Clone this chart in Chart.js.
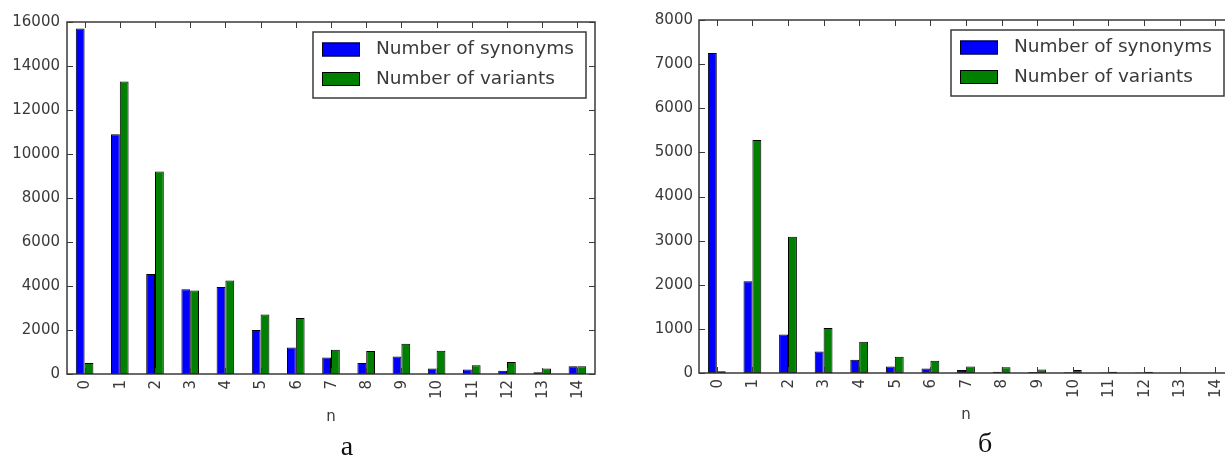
<!DOCTYPE html>
<html>
<head>
<meta charset="utf-8">
<script src="https://cdn.jsdelivr.net/npm/chart.js@4/dist/chart.umd.min.js"></script>
<style>
  html, body { margin: 0; padding: 0; background: #fff; }
  body { width: 1225px; height: 459px; overflow: hidden; position: relative; }
  canvas { position: absolute; top: 0; }
  .cap { position: absolute; font-family: "Liberation Serif", serif; font-size: 28px; color: #111; transform: translateX(-50%); line-height: 1; }
</style>
</head>
<body>
<canvas id="chartA" width="620" height="459" style="left:0px"></canvas>
<canvas id="chartB" width="620" height="459" style="left:630px"></canvas>
<div class="cap" style="left:347px; top:432px;">а</div>
<div class="cap" style="left:985px; top:429px;">б</div>
<script>
const categories = ['0','1','2','3','4','5','6','7','8','9','10','11','12','13','14'];
const seriesNames = ['Number of synonyms', 'Number of variants'];
const synonymsA = [15700, 10900, 4550, 3850, 3950, 2000, 1200, 750, 500, 800, 250, 200, 150, 80, 350];
const variantsA = [500, 13300, 9200, 3800, 4250, 2700, 2550, 1100, 1050, 1380, 1060, 400, 550, 250, 350];
const synonymsB = [7250, 2080, 870, 490, 300, 150, 100, 70, 30, 20, 15, 10, 10, 5, 5];
const variantsB = [40, 5280, 3090, 1020, 710, 370, 280, 150, 130, 80, 70, 30, 30, 10, 5];
const yTicksA = [0, 2000, 4000, 6000, 8000, 10000, 12000, 14000, 16000];
const yTicksB = [0, 1000, 2000, 3000, 4000, 5000, 6000, 7000, 8000];
const xTitle = 'n';

const INK = '#3a3a3a';
const FONT = '"DejaVu Sans", sans-serif';

const framePlugin = {
  id: 'frame',
  afterDatasetsDraw(chart) {
    const { ctx, chartArea: a, scales: { x, y } } = chart;
    const L = 6;
    ctx.save();
    ctx.strokeStyle = INK;
    ctx.lineWidth = 1;
    ctx.beginPath();
    x.ticks.forEach((t, i) => {
      const px = Math.round(x.getPixelForTick(i)) + 0.5;
      ctx.moveTo(px, a.top); ctx.lineTo(px, a.top + L);
      ctx.moveTo(px, a.bottom); ctx.lineTo(px, a.bottom - L);
    });
    y.ticks.forEach((t, i) => {
      const py = Math.round(y.getPixelForTick(i)) + 0.5;
      ctx.moveTo(a.left, py); ctx.lineTo(a.left + L, py);
      ctx.moveTo(a.right, py); ctx.lineTo(a.right - L, py);
    });
    ctx.stroke();
    ctx.lineWidth = 1.5;
    ctx.strokeRect(a.left, a.top, a.right - a.left, a.bottom - a.top);

    // legend box inside plot area, upper right
    const bw = 273, bh = 66;
    const bx = a.right - 9 - bw, by = a.top + 10;
    ctx.fillStyle = '#fff';
    ctx.fillRect(bx, by, bw, bh);
    ctx.strokeRect(bx, by, bw, bh);
    ctx.font = '18.5px ' + FONT;
    ctx.textBaseline = 'middle';
    ctx.textAlign = 'left';
    chart.data.datasets.forEach((ds, i) => {
      const cy = by + 17.5 + i * 29.5;
      ctx.fillStyle = ds.backgroundColor;
      ctx.fillRect(bx + 9, cy - 7, 38, 14);
      ctx.lineWidth = 1;
      ctx.strokeStyle = '#000';
      ctx.strokeRect(bx + 9.5, cy - 6.5, 37, 13);
      ctx.fillStyle = INK;
      ctx.fillText(ds.label, bx + 63, cy);
    });
    ctx.restore();
  }
};

function makeChart(id, syn, vari, yTicks, geom) {
  const ymax = yTicks[yTicks.length - 1];
  return new Chart(document.getElementById(id), {
    type: 'bar',
    data: {
      labels: categories,
      datasets: [
        { label: seriesNames[0], data: syn, backgroundColor: '#0000ff', borderColor: '#000', borderWidth: 1, borderSkipped: false },
        { label: seriesNames[1], data: vari, backgroundColor: '#008000', borderColor: '#000', borderWidth: 1, borderSkipped: false }
      ]
    },
    options: {
      responsive: false,
      animation: false,
      events: [],
      layout: { padding: { left: 0, right: geom.padRight, top: geom.padTop, bottom: 0 } },
      categoryPercentage: 0.5,
      barPercentage: 1.0,
      plugins: { legend: { display: false }, tooltip: { enabled: false } },
      scales: {
        x: {
          offset: true,
          grid: { display: false, drawTicks: false },
          border: { display: false },
          ticks: {
            color: INK, font: { family: FONT, size: 15 },
            minRotation: 90, maxRotation: 90, autoSkip: false, padding: 6,
            labelOffset: geom.labelOffset
          },
          title: { display: true, text: xTitle, color: INK, font: { family: FONT, size: 15 }, padding: { top: 0, bottom: geom.titlePad } },
          afterFit(s) { s.height = geom.xHeight; }
        },
        y: {
          min: 0, max: ymax,
          grid: { display: false, drawTicks: false },
          border: { display: false },
          afterBuildTicks(s) { s.ticks = yTicks.map(v => ({ value: v })); },
          ticks: { color: INK, font: { family: FONT, size: 15 }, padding: geom.yPad, callback: v => String(v) },
          afterFit(s) { s.width = geom.yWidth; }
        }
      }
    },
    plugins: [framePlugin]
  });
}

makeChart('chartA', synonymsA, variantsA, yTicksA,
  { padRight: 25, padTop: 22, xHeight: 85, yWidth: 67, yPad: 7, titlePad: 33, labelOffset: 1 });
makeChart('chartB', synonymsB, variantsB, yTicksB,
  { padRight: 17, padTop: 20, xHeight: 86, yWidth: 69, yPad: 6, titlePad: 35, labelOffset: 1 });
</script>
</body>
</html>
